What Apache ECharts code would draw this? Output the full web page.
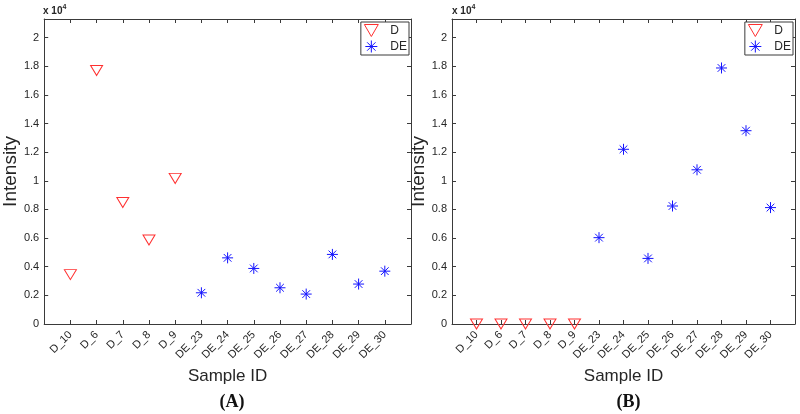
<!DOCTYPE html>
<html>
<head>
<meta charset="utf-8">
<script src="https://cdn.jsdelivr.net/npm/echarts@6/dist/echarts.min.js"></script>
<style>
html,body{margin:0;padding:0;background:#fff;}
#chart{width:800px;height:414px;}
</style>
</head>
<body>
<div id="chart"></div>
<script>
// ---- data ----
var sampleIds = ['D_10','D_6','D_7','D_8','D_9','DE_23','DE_24','DE_25','DE_26','DE_27','DE_28','DE_29','DE_30'];
var dIdsCount = 5;
// Panel A (intensity)
var panelA_D  = [3450, 17700, 8480, 5870, 10170];
var panelA_DE = [2180, 4620, 3880, 2530, 2090, 4860, 2790, 3690];
// Panel B (intensity)
var panelB_D  = [0, 0, 0, 0, 0];
var panelB_DE = [6030, 12200, 4580, 8240, 10770, 17880, 13500, 8130];
var panelLabels = ['(A)', '(B)'];

var RED = '#ff3030';
var BLUE = '#1414ff';
var AXIS = '#3a3a3a';
var TXT = '#262626';
var TRI = 'path://M0,0L100,0L50,86Z';
var STAR = 'path://M50,0L50,100M0,50L100,50M15,15L85,85M85,15L15,85';

function pts(vals, offset){
  return vals.map(function(v,i){ return [i+1+offset, v]; });
}
function yFmt(v){
  var s = parseFloat((v/10000).toFixed(2));
  return String(s);
}
function xFmt(v){
  var n = Math.round(v);
  return (n>=1 && n<=sampleIds.length) ? sampleIds[n-1] : '';
}

var grids = [
  {left:43, top:19, width:368, height:305},
  {left:452, top:19, width:343, height:305}
];
var xAxes = [], yAxes = [], series = [], legends = [], titles = [];
grids.forEach(function(g, gi){
  var common = {
    gridIndex: gi, type:'value', min:0, max:14, interval:1,
    axisLine:{show:true, onZero:false, lineStyle:{color:AXIS, width:1}},
    axisTick:{show:true, inside:true, length:4, lineStyle:{color:AXIS}},
    splitLine:{show:false}
  };
  xAxes.push(Object.assign({}, common, {
    position:'bottom',
    name:'Sample ID', nameLocation:'middle', nameGap:36,
    nameTextStyle:{fontFamily:'Liberation Sans, Arial', fontSize:17, color:TXT},
    axisLabel:{show:true, rotate:45, margin:9, fontFamily:'Liberation Sans, Arial', fontSize:11, color:TXT, formatter:xFmt, showMinLabel:false, showMaxLabel:false}
  }));
  xAxes.push(Object.assign({}, common, {position:'top', axisLabel:{show:false}}));
  var ycommon = {
    gridIndex: gi, type:'value', min:0, max:21300, interval:2000,
    axisLine:{show:true, onZero:false, lineStyle:{color:AXIS, width:1}},
    axisTick:{show:true, inside:true, length:4, lineStyle:{color:AXIS}},
    splitLine:{show:false}
  };
  yAxes.push(Object.assign({}, ycommon, {
    position:'left',
    name:'Intensity', nameLocation:'middle', nameGap:22,
    nameTextStyle:{fontFamily:'Liberation Sans, Arial', fontSize:19, color:TXT},
    axisLabel:{show:true, margin:5, fontFamily:'Liberation Sans, Arial', fontSize:11, color:TXT, formatter:yFmt, showMaxLabel:false}
  }));
  yAxes.push(Object.assign({}, ycommon, {position:'right', axisLabel:{show:false}}));

  var dVals = gi===0 ? panelA_D : panelB_D;
  var deVals = gi===0 ? panelA_DE : panelB_DE;
  series.push({
    name:'D', type:'scatter', xAxisIndex:gi*2, yAxisIndex:gi*2,
    data: pts(dVals, 0), symbol:TRI, symbolSize:[12,10],
    itemStyle:{color:'transparent', borderColor:RED, borderWidth:1, opacity:1},
    emphasis:{disabled:true}, z:3
  });
  series.push({
    name:'DE', type:'scatter', xAxisIndex:gi*2, yAxisIndex:gi*2,
    data: pts(deVals, dIdsCount), symbol:STAR, symbolSize:11,
    itemStyle:{color:'transparent', borderColor:BLUE, borderWidth:1, opacity:1},
    emphasis:{disabled:true}, z:3
  });
  legends.push({
    data:['D','DE'], orient:'vertical', right: 800 - (g.left + g.width) + 2, top:22,
    backgroundColor:'#fff', borderColor:AXIS, borderWidth:1, padding:[2,2,2,3],
    itemGap:3, itemWidth:14, itemHeight:12,
    itemStyle:{borderWidth:1},
    textStyle:{fontFamily:'Liberation Sans, Arial', fontSize:12, color:TXT, padding:[0,0,0,7]},
    selectedMode:false
  });
  titles.push({
    text: panelLabels[gi], left: g.left + g.width/2, top: 388, textAlign:'center',
    textStyle:{fontFamily:'Liberation Serif, Times New Roman', fontWeight:'bold', fontSize:18, color:'#111'}
  });
  titles.push({
    text:'{a|x 10}{b|4}', left: g.left, top: 4, padding:0,
    textStyle:{rich:{
      a:{fontFamily:'Liberation Sans, Arial', fontSize:10, color:TXT},
      b:{fontFamily:'Liberation Sans, Arial', fontSize:7, color:TXT, padding:[0,0,7,0]}
    }}
  });
});

var chart = echarts.init(document.getElementById('chart'), null, {renderer:'canvas'});
chart.setOption({
  animation:false,
  backgroundColor:'#fff',
  title: titles,
  legend: legends,
  grid: grids.map(function(g){ return Object.assign({containLabel:false}, g); }),
  xAxis: xAxes,
  yAxis: yAxes,
  series: series
});
</script>
</body>
</html>
